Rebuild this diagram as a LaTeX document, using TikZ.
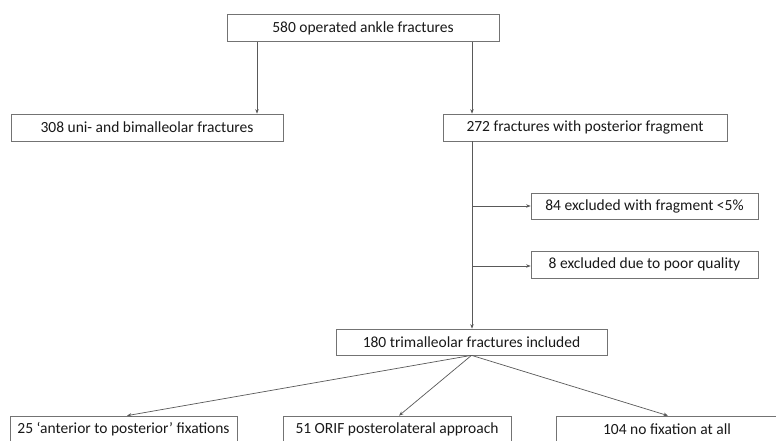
\documentclass[tikz,border=0pt]{standalone}
\usepackage{fontspec}
\setmainfont{Carlito}
\usetikzlibrary{arrows.meta}
\begin{document}
\begin{tikzpicture}[x=1pt,y=-1pt,
  box/.style={draw=black!55, line width=0.7pt, fill=white, inner sep=0pt,
    minimum height=27pt, font=\fontsize{15.5}{17}\selectfont, text=black!90},
  link/.style={draw=black!65, line width=0.7pt, -{Stealth[length=4.5pt,width=3.5pt]}},
  plain/.style={draw=black!65, line width=0.7pt}]
\useasboundingbox (0,0) rectangle (776,441);
\fill[white] (0,0) rectangle (776,441);

% top level
\node[box, minimum width=272pt] (A) at (363,28) {580 operated ankle fractures};
\node[box, minimum width=272pt] (B) at (147,127.5) {308 uni- and bimalleolar fractures};
\node[box, minimum width=284pt] (C) at (585,127.5) {272 fractures with posterior fragment};

% exclusions
\node[box, minimum width=227pt, minimum height=26pt] (D) at (644.5,206) {84 excluded with fragment <5\%};
\node[box, minimum width=227pt] (E) at (644.5,264.5) {8 excluded due to poor quality};

% included
\node[box, minimum width=271pt, minimum height=26pt] (F) at (471.5,342) {180 trimalleolar fractures included};

% treatment groups
\node[box, minimum width=227pt] (G) at (123.5,429.5) {25 ‘anterior to posterior’ fixations};
\node[box, minimum width=228pt] (H) at (397,429.5) {51 ORIF posterolateral approach};
\node[box, minimum width=222pt] (I) at (667,429.5) {104 no fixation at all};

% connector columns
\coordinate (colB) at (257,0);
\coordinate (trunk) at (472,0);
\coordinate (tipG) at (127,0);
\coordinate (tipH) at (399,0);
\coordinate (tipI) at (668,0);

\draw[link] (A.south -| colB) -- (B.north -| colB);
\draw[link] (A.south -| trunk) -- (C.north -| trunk);
\draw[link] (C.south -| trunk) -- (F.north -| trunk);
\draw[link] (trunk |- D.west) -- (D.west);
\draw[link] ([yshift=-1.5pt]trunk |- E.west) -- ([yshift=-1.5pt]E.west);

\draw[link] (F.south) -- (G.north -| tipG);
\draw[link] (F.south) -- (H.north -| tipH);
\draw[link] (F.south) -- (I.north -| tipI);
\end{tikzpicture}
\end{document}
